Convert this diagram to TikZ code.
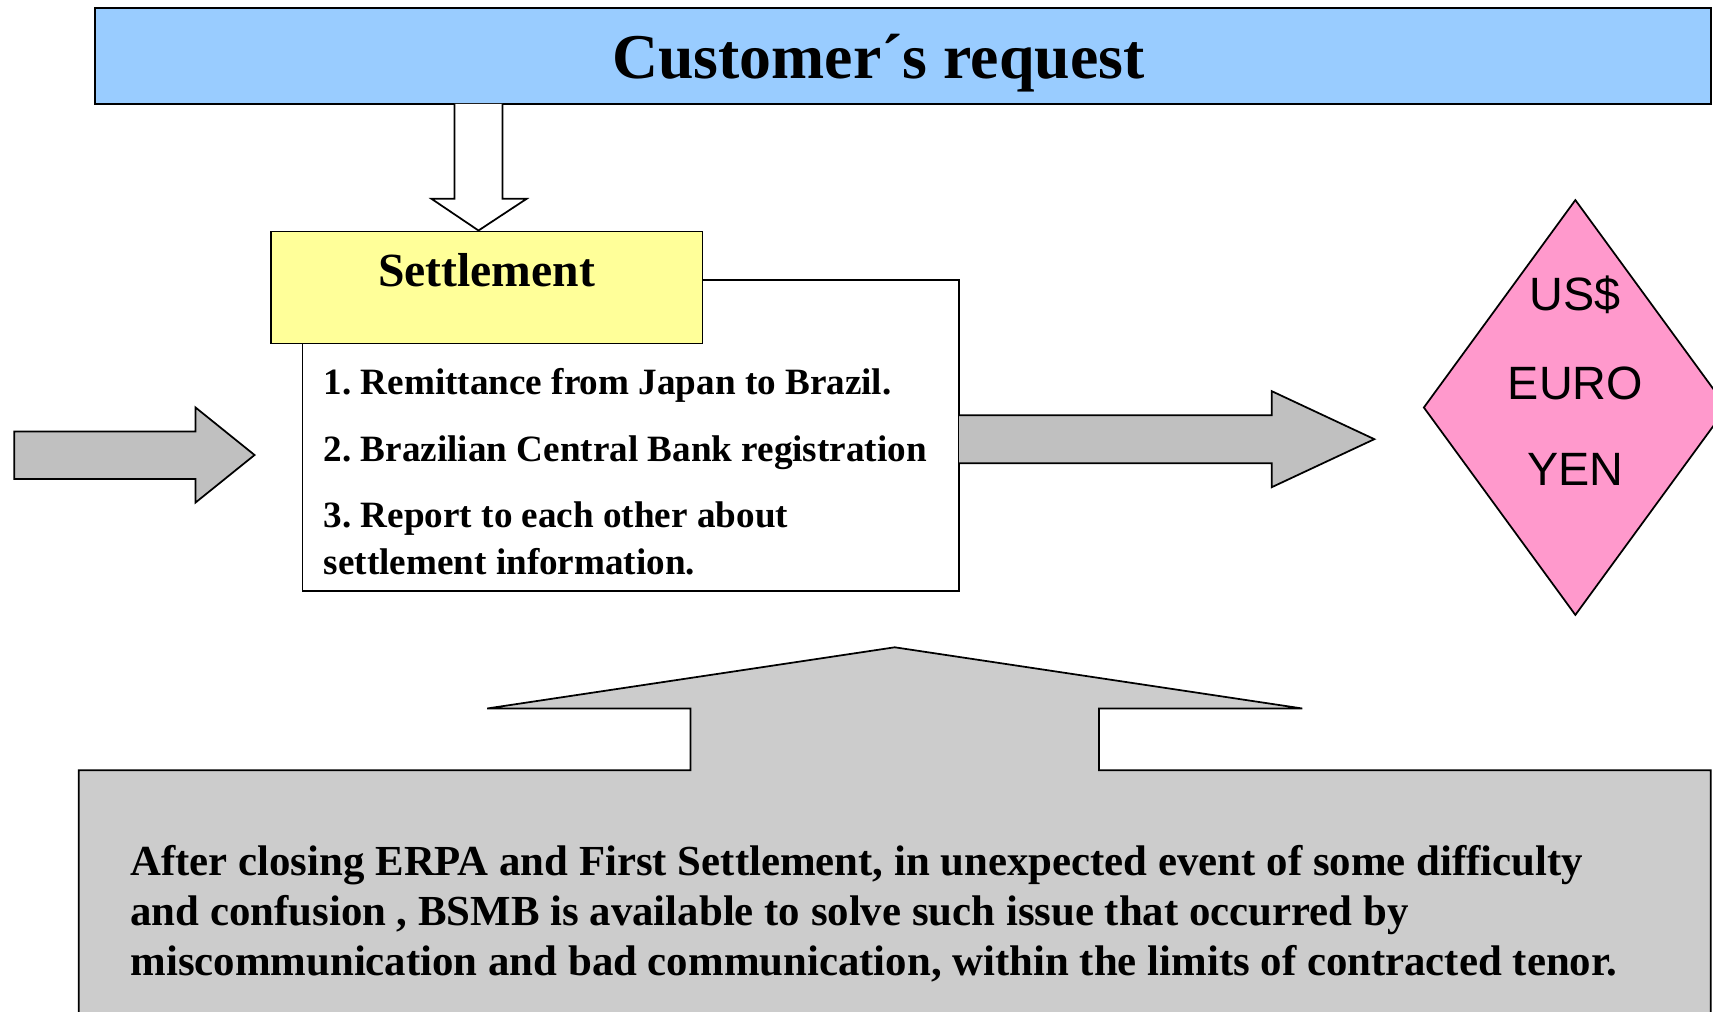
\documentclass[tikz,border=0pt]{standalone}
\usepackage{fontspec}
\setmainfont{Liberation Serif}
\setsansfont{Liberation Sans}
\usetikzlibrary{shapes.geometric}
\definecolor{titleblue}{HTML}{99CCFF}
\definecolor{setyellow}{HTML}{FFFF99}
\definecolor{arrowgray}{HTML}{C0C0C0}
\definecolor{boxgray}{HTML}{CCCCCC}
\definecolor{diapink}{HTML}{FF99CC}
\frenchspacing
\begin{document}
\begin{tikzpicture}[x=0.5pt,y=-0.5pt,
  boxshape/.style={draw=black, line width=0.8pt, rectangle, inner sep=0pt, outer sep=0pt, anchor=north west},
  blockarrow/.style={draw=black, line width=0.8pt, line join=miter},
  listtext/.style={anchor=base west, inner sep=0pt, font=\fontsize{17}{20}\selectfont\bfseries},
  bottomtext/.style={anchor=base west, inner sep=0pt, font=\fontsize{19.6}{23}\selectfont\bfseries},
  curtext/.style={anchor=base, inner sep=0pt, font=\fontsize{21.4}{24}\selectfont\sffamily}]
\useasboundingbox (0,0) rectangle (1568,926);
\clip (0,0) rectangle (1568,926);

% title
\node[boxshape, fill=titleblue, minimum width=739.5pt, minimum height=44pt] (title) at (87,7) {};
\node[anchor=base, inner sep=0pt, font=\fontsize{29.2}{32}\selectfont\bfseries] (titletext) at (804,72.3) {Customer´s request};

% down hollow arrow
\draw[blockarrow, fill=white] (416,95) -- (416,182) -- (395,182) -- (438,211) -- (482,182) -- (460,182) -- (460,95);

% info box and settlement box
\node[boxshape, fill=white, minimum width=300.5pt, minimum height=142.6pt] (info) at (277,256) {};
\node[boxshape, fill=setyellow, minimum width=197.5pt, minimum height=51.2pt] (settle) at (248,212) {};
\node[anchor=base, inner sep=0pt, font=\fontsize{21.8}{24}\selectfont\bfseries] (settletext) at (445.5,262) {Settlement};

\node[listtext] (item1) at (296,361) {1. Remittance from Japan to Brazil.};
\node[listtext] (item2) at (296,422.7) {2. Brazilian Central Bank registration};
\node[listtext] (item3a) at (296,483) {3. Report to each other about};
\node[listtext] (item3b) at (296,526) {settlement information.};

% left arrow
\draw[blockarrow, fill=arrowgray] (13,395) -- (179,395) -- (179,373) -- (233,416.5) -- (179,460) -- (179,438.5) -- (13,438.5) -- cycle;

% right arrow
\draw[blockarrow, fill=arrowgray] (878,380) -- (1164,380) -- (1164,358) -- (1258,402) -- (1164,446) -- (1164,424) -- (878,424);

% diamond
\node[diamond, draw=black, line width=0.8pt, fill=diapink, inner sep=0pt, minimum width=139pt, minimum height=190.2pt] (currency) at (1442,373) {};
\node[curtext] (usd) at (1442,284.4) {US\$};
\node[curtext] (euro) at (1442,365.5) {EURO};
\node[curtext] (yen) at (1442,444) {YEN};

% bottom callout
\draw[blockarrow, fill=boxgray] (72,705) -- (632,705) -- (632,648.5) -- (446,648.5) -- (819,592.5) -- (1192,648.5) -- (1006,648.5) -- (1006,705) -- (1566,705) -- (1566,940) -- (72,940) -- cycle;
\node[bottomtext] (note1) at (119,801) {After closing ERPA and First Settlement, in unexpected event of some difficulty};
\node[bottomtext] (note2) at (119,846.7) {and confusion , BSMB is available to solve such issue that occurred by};
\node[bottomtext] (note3) at (119,892.5) {miscommunication and bad communication, within the limits of contracted tenor.};
\end{tikzpicture}
\end{document}
